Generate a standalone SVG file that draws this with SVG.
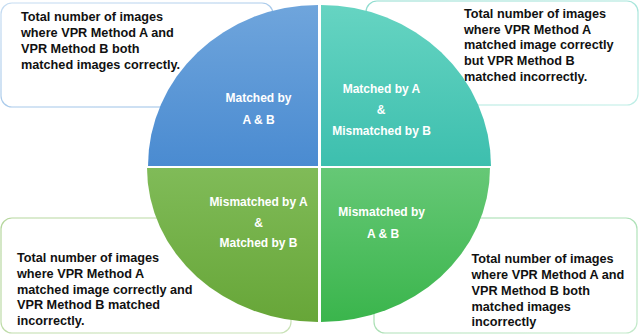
<svg xmlns="http://www.w3.org/2000/svg" width="640" height="336" viewBox="0 0 640 336">
  <defs>
    <linearGradient id="gBlue" x1="0" y1="0" x2="0" y2="1">
      <stop offset="0" stop-color="#6fa5dc"/>
      <stop offset="1" stop-color="#4a8bd1"/>
    </linearGradient>
    <linearGradient id="gTeal" x1="0" y1="0" x2="0" y2="1">
      <stop offset="0" stop-color="#66d4c2"/>
      <stop offset="1" stop-color="#3dbfae"/>
    </linearGradient>
    <linearGradient id="gLime" x1="0" y1="0" x2="0" y2="1">
      <stop offset="0" stop-color="#80bb58"/>
      <stop offset="1" stop-color="#67a638"/>
    </linearGradient>
    <linearGradient id="gGreen" x1="0" y1="0" x2="0" y2="1">
      <stop offset="0" stop-color="#66c876"/>
      <stop offset="1" stop-color="#3ab54c"/>
    </linearGradient>
    <linearGradient id="bBlue" x1="0" y1="0" x2="1" y2="1">
      <stop offset="0" stop-color="#c7ddf2"/>
      <stop offset="1" stop-color="#8db8e3"/>
    </linearGradient>
    <linearGradient id="bTeal" x1="0" y1="0" x2="1" y2="1">
      <stop offset="0" stop-color="#8fdccf"/>
      <stop offset="1" stop-color="#bfeee6"/>
    </linearGradient>
    <linearGradient id="bLime" x1="0" y1="0" x2="1" y2="1">
      <stop offset="0" stop-color="#b5d69d"/>
      <stop offset="1" stop-color="#c9e2b7"/>
    </linearGradient>
    <linearGradient id="bGreen" x1="0" y1="0" x2="1" y2="1">
      <stop offset="0" stop-color="#96d8a2"/>
      <stop offset="1" stop-color="#c4eacb"/>
    </linearGradient>
  </defs>
  <style>
    .box { fill: #ffffff; stroke-width: 1.2; }
    .desc { font-family: "Liberation Sans", Arial, sans-serif; font-weight: bold; font-size: 12.7px; fill: #111111; }
    .lbl { font-family: "Liberation Sans", Arial, sans-serif; font-weight: bold; font-size: 12px; fill: #ffffff; text-anchor: middle; }
  </style>
  <rect width="640" height="336" fill="#ffffff"/>

  <g id="box-top-left">
    <rect class="box" x="1" y="3" width="272" height="104" rx="11" stroke="url(#bBlue)"/>
    <text class="desc" x="21" y="21">Total number of images</text>
    <text class="desc" x="21" y="37">where VPR Method A and</text>
    <text class="desc" x="21" y="53">VPR Method B both</text>
    <text class="desc" x="21" y="68.5">matched images correctly.</text>
  </g>
  <g id="box-top-right">
    <rect class="box" x="366" y="1" width="272" height="104" rx="11" stroke="url(#bTeal)"/>
    <text class="desc" x="464" y="18">Total number of images</text>
    <text class="desc" x="464" y="33.7">where VPR Method A</text>
    <text class="desc" x="464" y="49.4">matched image correctly</text>
    <text class="desc" x="464" y="65.1">but VPR Method B</text>
    <text class="desc" x="464" y="80.8">matched incorrectly.</text>
  </g>
  <g id="box-bottom-left">
    <rect class="box" x="1" y="218" width="290" height="115" rx="11" stroke="url(#bLime)"/>
    <text class="desc" x="17" y="261.5">Total number of images</text>
    <text class="desc" x="17" y="277.5">where VPR Method A</text>
    <text class="desc" x="17" y="293.5">matched image correctly and</text>
    <text class="desc" x="17" y="309.3">VPR Method B matched</text>
    <text class="desc" x="17" y="325">incorrectly.</text>
  </g>
  <g id="box-bottom-right">
    <rect class="box" x="374" y="218" width="263" height="115" rx="11" stroke="url(#bGreen)"/>
    <text class="desc" x="471.5" y="262.5">Total number of images</text>
    <text class="desc" x="471.5" y="278.5">where VPR Method A and</text>
    <text class="desc" x="471.5" y="294.5">VPR Method B both</text>
    <text class="desc" x="471.5" y="310.5">matched images</text>
    <text class="desc" x="471.5" y="326">incorrectly</text>
  </g>

  <g id="q-matched-ab">
    <path d="M318,166 L148,166 A170,161 0 0 1 318,5 Z" fill="url(#gBlue)"/>
    <text class="lbl" x="258.5" y="102">Matched by</text>
    <text class="lbl" x="258.5" y="124">A &amp; B</text>
  </g>
  <g id="q-matched-a-mismatched-b">
    <path d="M321,166 L321,5 A170,161 0 0 1 491,166 Z" fill="url(#gTeal)"/>
    <text class="lbl" x="381.5" y="92.7">Matched by A</text>
    <text class="lbl" x="381" y="113.5">&amp;</text>
    <text class="lbl" x="381.5" y="135">Mismatched by B</text>
  </g>
  <g id="q-mismatched-a-matched-b">
    <path d="M318,168 L318,322 A171,154 0 0 1 147,168 Z" fill="url(#gLime)"/>
    <text class="lbl" x="258.5" y="205.5">Mismatched by A</text>
    <text class="lbl" x="258.5" y="226.7">&amp;</text>
    <text class="lbl" x="258.5" y="247">Matched by B</text>
  </g>
  <g id="q-mismatched-ab">
    <path d="M321,168 L490,168 A169,154 0 0 1 321,322 Z" fill="url(#gGreen)"/>
    <text class="lbl" x="381.7" y="216">Mismatched by</text>
    <text class="lbl" x="383" y="237.7">A &amp; B</text>
  </g>

  <g id="connectors"/>
</svg>
